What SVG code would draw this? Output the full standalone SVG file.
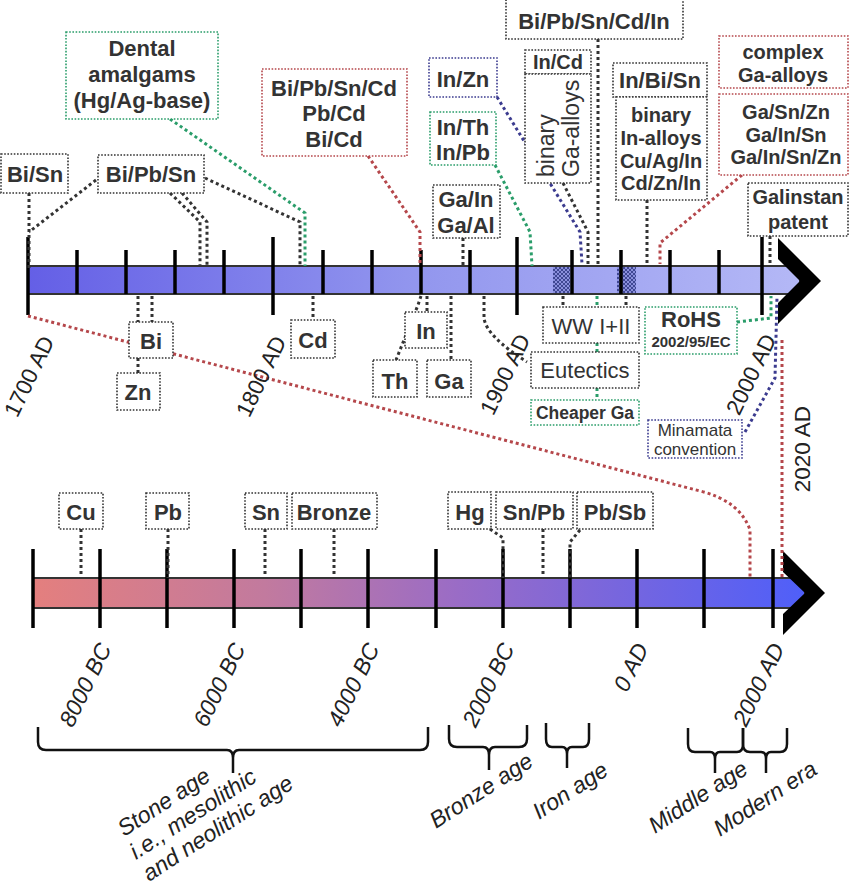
<svg xmlns="http://www.w3.org/2000/svg" width="850" height="887" viewBox="0 0 850 887">
<defs>
<linearGradient id="gUp" x1="28" y1="0" x2="800" y2="0" gradientUnits="userSpaceOnUse">
<stop offset="0" stop-color="#645fe6"/><stop offset="0.5" stop-color="#9296ee"/><stop offset="1" stop-color="#b4b8f6"/>
</linearGradient>
<linearGradient id="gLow" x1="33" y1="0" x2="805" y2="0" gradientUnits="userSpaceOnUse">
<stop offset="0" stop-color="#e47f7e"/><stop offset="0.3" stop-color="#c27a9e"/><stop offset="0.55" stop-color="#9a6cc6"/><stop offset="1" stop-color="#4f5ff9"/>
</linearGradient>
<pattern id="hatch" patternUnits="userSpaceOnUse" width="4" height="4">
<rect width="4" height="4" fill="#8a8fdc"/>
<path d="M0,0 L4,4 M4,0 L0,4" stroke="#2c3580" stroke-width="0.8"/>
</pattern>
<style>
.box{fill:#fff;stroke:#333;stroke-width:1.6;stroke-dasharray:1.6 1.6}
.bg{stroke:#2a9d6a}.br{stroke:#b5474b}.bn{stroke:#3b3b8f}
.t{font-family:"Liberation Sans",Arial,sans-serif;font-weight:bold;font-size:22px;fill:#333;text-anchor:middle}
.s20{font-size:20px}
.reg{font-weight:normal}
.c{fill:none;stroke-width:3;stroke-dasharray:3 3}
.k{stroke:#333}.g{stroke:#2a9d6a}.r{stroke:#b5474b}.n{stroke:#3b3b8f}
.lab{font-family:"Liberation Sans",Arial,sans-serif;font-size:22.5px;fill:#222}
.it{font-style:italic;font-size:23px}
.tick{stroke:#000;stroke-width:3.5}
.bar{stroke:#333;stroke-width:2}
.brace{fill:none;stroke:#111;stroke-width:2.5}
</style>
</defs>

<g id="upper-timeline">
<rect class="bar" x="28" y="266" width="772" height="28" fill="url(#gUp)"/>
<rect x="553" y="267" width="17" height="26" fill="url(#hatch)"/>
<rect x="617" y="267" width="19" height="26" fill="url(#hatch)"/>
<g class="tick">
<line x1="28" y1="237" x2="28" y2="315"/><line x1="273" y1="237" x2="273" y2="315"/>
<line x1="517" y1="237" x2="517" y2="315"/><line x1="762" y1="237" x2="762" y2="315"/>
<line x1="77" y1="250" x2="77" y2="294"/><line x1="126" y1="250" x2="126" y2="294"/>
<line x1="175" y1="250" x2="175" y2="294"/><line x1="224" y1="250" x2="224" y2="294"/>
<line x1="323" y1="250" x2="323" y2="294"/><line x1="372" y1="250" x2="372" y2="294"/>
<line x1="421" y1="250" x2="421" y2="294"/><line x1="470" y1="250" x2="470" y2="294"/>
<line x1="572" y1="250" x2="572" y2="294"/><line x1="621" y1="250" x2="621" y2="294"/>
<line x1="670" y1="250" x2="670" y2="294"/><line x1="719" y1="250" x2="719" y2="294"/>
</g>
<polygon points="778,238 821,281 778,324 778,303 800,281 778,259" fill="#000"/>
</g>

<g id="lower-timeline">
<rect class="bar" x="33" y="578" width="772" height="30" fill="url(#gLow)"/>
<g class="tick">
<line x1="33" y1="549" x2="33" y2="628"/><line x1="100" y1="549" x2="100" y2="628"/>
<line x1="167" y1="549" x2="167" y2="628"/><line x1="234" y1="549" x2="234" y2="628"/>
<line x1="301" y1="549" x2="301" y2="628"/><line x1="368" y1="549" x2="368" y2="628"/>
<line x1="436" y1="549" x2="436" y2="628"/><line x1="503" y1="549" x2="503" y2="628"/>
<line x1="570" y1="549" x2="570" y2="628"/><line x1="637" y1="549" x2="637" y2="628"/>
<line x1="704" y1="549" x2="704" y2="628"/><line x1="773" y1="549" x2="773" y2="628"/>
</g>
<polygon points="783,551 825,593 783,635 783,614 805,593 783,572" fill="#000"/>
</g>

<g id="connectors">
<path class="c k" d="M29,193 V268"/>
<path class="c k" d="M96,180 L29,232"/>
<path class="c k" d="M170,193 L200,222 V266"/>
<path class="c k" d="M182,193 L207,222 V266"/>
<path class="c k" d="M205,178 L300,222 V266"/>
<path class="c g" d="M170,119 L305,213 V266"/>
<path class="c r" d="M368,156 L420,232 V266"/>
<path class="c n" d="M497,97 L580,232 L582,264"/>
<path class="c g" d="M495,165 L530,232 L532,266"/>
<path class="c k" d="M463,238 V266"/>
<path class="c k" d="M598,39 V264"/>
<path class="c k" d="M563,183 L588,232 V264"/>
<path class="c k" d="M647,200 V264"/>
<path class="c r" d="M742,175 L660,243 V264"/>
<path class="c k" d="M770,236 V266"/>
<path class="c k" d="M138,296 V322"/>
<path class="c k" d="M152,296 V322"/>
<path class="c k" d="M138,358 V373"/>
<path class="c k" d="M313,296 V320"/>
<path class="c k" d="M427,296 V312"/>
<path class="c k" d="M421,296 L418,305 L396,360"/>
<path class="c k" d="M451,296 V360"/>
<path class="c k" d="M484,296 V318 Q486,336 527,362"/>
<path class="c k" d="M563,296 V307"/>
<path class="c k" d="M626,296 V307"/>
<path class="c g" d="M597,296 V307"/>
<path class="c g" d="M597,343 V352"/>
<path class="c g" d="M597,388 V400"/>
<path class="c g" d="M737,322 L771,318 V296"/>
<path class="c n" d="M745,432 L775,378 L777,297"/>
<path class="c r" d="M28,316 L700,491 Q740,501 750,530 V578"/>
<path class="c r" d="M782,340 V578"/>
<path class="c k" d="M81,529 V578"/>
<path class="c k" d="M168,529 V578"/>
<path class="c k" d="M265,529 V576"/>
<path class="c k" d="M334,529 V576"/>
<path class="c k" d="M490,529 L503,538 V578"/>
<path class="c k" d="M543,529 V578"/>
<path class="c k" d="M580,530 L570,542 V578"/>
</g>

<g id="n-dental"><rect class="box bg" x="66" y="32" width="152" height="87"/>
<text class="t" x="142" y="56">Dental</text><text class="t" x="142" y="82">amalgams</text><text class="t" x="142" y="108">(Hg/Ag-base)</text></g>
<g id="n-bisn"><rect class="box" x="1" y="154" width="67" height="39"/><text class="t" x="35" y="182">Bi/Sn</text></g>
<g id="n-bipbsn"><rect class="box" x="98" y="155" width="106" height="38"/><text class="t" x="151" y="182">Bi/Pb/Sn</text></g>
<g id="n-cd-alloys"><rect class="box br" x="262" y="69" width="145" height="87"/>
<text class="t" x="334" y="96">Bi/Pb/Sn/Cd</text><text class="t" x="334" y="121">Pb/Cd</text><text class="t" x="334" y="147">Bi/Cd</text></g>
<g id="n-inzn"><rect class="box bn" x="429" y="58" width="68" height="39"/><text class="t" x="463" y="87">In/Zn</text></g>
<g id="n-inth"><rect class="box bg" x="430" y="112" width="66" height="53"/><text class="t" x="463" y="135">In/Th</text><text class="t" x="463" y="160">In/Pb</text></g>
<g id="n-gain"><rect class="box" x="433" y="185" width="67" height="53"/><text class="t" x="466" y="207">Ga/In</text><text class="t" x="466" y="233">Ga/Al</text></g>
<g id="n-bipbsncdin"><rect class="box" x="506" y="-1" width="177" height="40"/><text class="t" x="594" y="29">Bi/Pb/Sn/Cd/In</text></g>
<g id="n-incd"><rect class="box" x="525" y="50" width="66" height="24"/><text class="t s20" x="558" y="69">In/Cd</text></g>
<g id="n-binga"><rect class="box" x="525" y="74" width="66" height="109"/>
<text class="t reg" style="font-size:23px;text-anchor:start" transform="translate(554,177) rotate(-90)">binary</text>
<text class="t reg" style="font-size:23px;text-anchor:start" transform="translate(579,177) rotate(-90)">Ga-alloys</text></g>
<g id="n-inbisn"><rect class="box" x="613" y="63" width="94" height="34"/><text class="t" x="660" y="88">In/Bi/Sn</text></g>
<g id="n-binin"><rect class="box" x="616" y="97" width="91" height="103"/>
<text class="t s20" x="661" y="122">binary</text><text class="t s20" x="661" y="145">In-alloys</text><text class="t s20" x="661" y="168">Cu/Ag/In</text><text class="t s20" x="661" y="190">Cd/Zn/In</text></g>
<g id="n-complex"><rect class="box br" x="719" y="36" width="129" height="52"/>
<text class="t s20" x="783" y="59">complex</text><text class="t s20" x="783" y="82">Ga-alloys</text></g>
<g id="n-gasnzn"><rect class="box br" x="719" y="94" width="129" height="81"/>
<text class="t s20" x="786" y="119">Ga/Sn/Zn</text><text class="t s20" x="786" y="142">Ga/In/Sn</text><text class="t s20" x="786" y="164">Ga/In/Sn/Zn</text></g>
<g id="n-galinstan"><rect class="box" x="748" y="183" width="100" height="53"/>
<text class="t s20" x="798" y="204">Galinstan</text><text class="t s20" x="798" y="229">patent</text></g>
<g id="n-bi"><rect class="box" x="129" y="322" width="44" height="36"/><text class="t" x="151" y="349">Bi</text></g>
<g id="n-zn"><rect class="box" x="117" y="373" width="43" height="37"/><text class="t" x="138" y="400">Zn</text></g>
<g id="n-cd"><rect class="box" x="291" y="320" width="44" height="38"/><text class="t" x="313" y="348">Cd</text></g>
<g id="n-in"><rect class="box" x="405" y="312" width="42" height="36"/><text class="t" x="426" y="339">In</text></g>
<g id="n-th"><rect class="box" x="373" y="360" width="44" height="37"/><text class="t" x="395" y="389">Th</text></g>
<g id="n-ga"><rect class="box" x="427" y="360" width="44" height="37"/><text class="t" x="449" y="389">Ga</text></g>
<g id="n-ww"><rect class="box" x="543" y="307" width="96" height="36"/><text class="t reg" x="591" y="334">WW I+II</text></g>
<g id="n-eutectics"><rect class="box" x="531" y="352" width="108" height="36"/><text class="t reg" x="585" y="378">Eutectics</text></g>
<g id="n-cheaperga"><rect class="box bg" x="531" y="400" width="108" height="25"/><text class="t" style="font-size:17.5px" x="585" y="419">Cheaper Ga</text></g>
<g id="n-rohs"><rect class="box bg" x="645" y="307" width="92" height="47"/>
<text class="t" x="691" y="327">RoHS</text><text class="t" style="font-size:15px" x="691" y="347">2002/95/EC</text></g>
<g id="n-minamata"><rect class="box bn" x="648" y="420" width="94" height="38"/>
<text class="t reg" style="font-size:17px" x="695" y="436">Minamata</text><text class="t reg" style="font-size:17px" x="695" y="455">convention</text></g>
<g id="n-cu"><rect class="box" x="59" y="493" width="44" height="36"/><text class="t" x="81" y="520">Cu</text></g>
<g id="n-pb"><rect class="box" x="146" y="493" width="43" height="36"/><text class="t" x="168" y="520">Pb</text></g>
<g id="n-sn"><rect class="box" x="245" y="493" width="42" height="36"/><text class="t" x="266" y="520">Sn</text></g>
<g id="n-bronze"><rect class="box" x="292" y="493" width="85" height="36"/><text class="t" x="334" y="520">Bronze</text></g>
<g id="n-hg"><rect class="box" x="448" y="492" width="43" height="37"/><text class="t" x="470" y="520">Hg</text></g>
<g id="n-snpb"><rect class="box" x="496" y="492" width="77" height="37"/><text class="t" x="534" y="520">Sn/Pb</text></g>
<g id="n-pbsb"><rect class="box" x="577" y="492" width="76" height="37"/><text class="t" x="615" y="520">Pb/Sb</text></g>

<g id="axis-labels" class="lab" text-anchor="end">
<text transform="translate(55,341) rotate(-64)">1700 AD</text>
<text transform="translate(287,341) rotate(-64)">1800 AD</text>
<text transform="translate(531,339) rotate(-64)">1900 AD</text>
<text transform="translate(777,339) rotate(-64)">2000 AD</text>
<text transform="translate(810,406) rotate(-90)">2020 AD</text>
<g class="it">
<text transform="translate(112,648) rotate(-64)">8000 BC</text>
<text transform="translate(246,648) rotate(-64)">6000 BC</text>
<text transform="translate(380,648) rotate(-64)">4000 BC</text>
<text transform="translate(515,648) rotate(-64)">2000 BC</text>
<text transform="translate(649,648) rotate(-64)">0 AD</text>
<text transform="translate(785,648) rotate(-64)">2000 AD</text>
</g>
</g>

<g id="eras">
<path class="brace" d="M38,727 V742 Q38,750 46,750 H227 Q233,750 233,758 V773 M233,758 Q233,750 239,750 H420 Q428,750 428,742 V727"/>
<path class="brace" d="M449,725 V739 Q449,747 457,747 H483 Q489,747 489,755 V770 M489,755 Q489,747 495,747 H519 Q527,747 527,739 V725"/>
<path class="brace" d="M546,723 V739 Q546,747 552,747 H562 Q567,747 567,754 V768 M567,754 Q567,747 572,747 H583 Q589,747 589,739 V723"/>
<path class="brace" d="M688,728 V744 Q688,752 695,752 H710 Q715,752 715,759 V773 M715,759 Q715,752 720,752 H737 Q743,752 743,744 V728"/>
<path class="brace" d="M743,728 V744 Q743,752 750,752 H761 Q766,752 766,759 V773 M766,759 Q766,752 771,752 H780 Q787,752 787,744 V728"/>
<g class="lab it">
<text transform="translate(124,837) rotate(-33)">Stone age</text>
<text transform="translate(136,860) rotate(-33)">i.e., mesolithic</text>
<text transform="translate(149,882) rotate(-33)">and neolithic age</text>
<text transform="translate(436,829) rotate(-33)">Bronze age</text>
<text transform="translate(539,820) rotate(-33)">Iron age</text>
<text transform="translate(655,834) rotate(-33)">Middle age</text>
<text transform="translate(720,837) rotate(-33)">Modern era</text>
</g>
</g>
</svg>
